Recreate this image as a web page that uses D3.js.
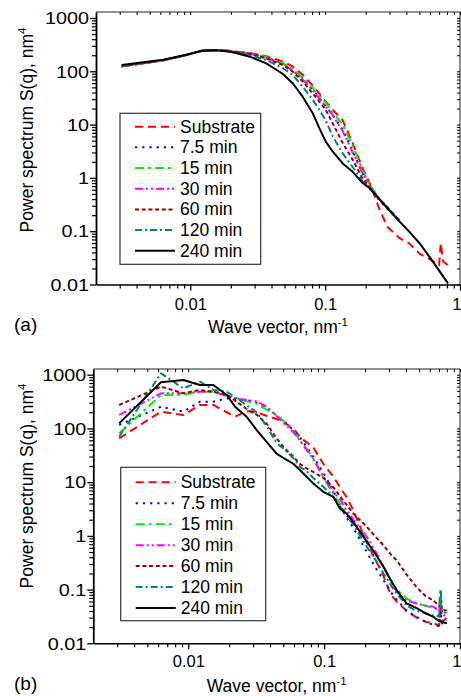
<!DOCTYPE html>
<html><head><meta charset="utf-8">
<script src="https://cdn.jsdelivr.net/npm/d3@7"></script>
<style>
html,body{margin:0;padding:0;background:#fff;}
svg{display:block;}
text{font-family:"Liberation Sans",Arial,Helvetica,sans-serif;fill:#000;}
</style>
</head><body>
<svg id="chart" width="461" height="696"></svg>
<script>
// ---------- DATA ----------
const seriesNames = ["Substrate", "7.5 min", "15 min", "30 min", "60 min", "120 min", "240 min"];
const xTickValues = [0.01, 0.1, 1];
const yTickValues = [0.01, 0.1, 1, 10, 100, 1000];
const panelLabels = ["(a)", "(b)"];
const xTitle = "Wave vector, nm";
const xTitleSup = "-1";
const yTitle = "Power spectrum S(q), nm";
const yTitleSup = "4";

// Panel (a)
const qA = [0.0031, 0.0063, 0.0092, 0.0122, 0.0153, 0.0184, 0.0214, 0.0277, 0.0366, 0.0487, 0.0577, 0.0683, 0.081, 0.0906, 0.101, 0.114, 0.135, 0.16, 0.19, 0.214, 0.254, 0.29, 0.357, 0.42, 0.5, 0.595, 0.70, 0.72, 0.75, 0.815];
const sA_sub = [123, 160, 200, 243, 250, 245, 235, 220, 192, 152, 122, 86, 54, 38, 27, 19, 12, 4.5, 1.5, 0.8, 0.25, 0.12, 0.074, 0.059, 0.038, 0.03, 0.023, 0.06, 0.027, 0.023];
const sA_7_5 = [124, 161, 200, 243, 250, 245, 234, 216, 182, 140, 105, 74, 46, 32, 22, 15, 8, 3.2, 1.2, 0.68, 0.37, 0.26, 0.16, null, null, null, null, null, null, null];
const sA_15  = [124, 161, 200, 243, 250, 245, 234, 218, 185, 142, 108, 76, 49, 35, 26, 17, 10, 4, 1.4, 0.75, 0.4, 0.28, 0.16, null, null, null, null, null, null, null];
const sA_30  = [124, 161, 200, 243, 250, 245, 234, 214, 180, 137, 102, 70, 44, 31, 22, 15, 7.5, 3, 1.2, 0.7, 0.38, 0.27, 0.155, null, null, null, null, null, null, null];
const sA_60  = [124, 161, 200, 243, 250, 244, 232, 211, 175, 131, 98, 64, 38.5, 27, 19, 10.5, 4.5, 2.2, 0.95, 0.66, 0.4, 0.28, 0.155, null, null, null, null, null, null, null];
const sA_120 = [125, 162, 201, 243, 249, 242, 228, 202, 163, 114, 85, 51, 29, 19, 12, 6, 2.9, 1.6, 0.85, 0.64, 0.39, 0.27, 0.152, null, null, null, null, null, null, null];
const sA_240 = [131, 165, 203, 243, 248, 238, 222, 188, 141, 89, 59, 33, 16.3, 8.6, 4.8, 3.1, 1.87, 1.3, 0.8, 0.64, 0.39, 0.27, 0.151, 0.098, 0.06, 0.033, null, null, null, 0.0105];

// Panel (b)
const qB = [0.0031, 0.0063, 0.0092, 0.0122, 0.0153, 0.0192, 0.0221, 0.0269, 0.0319, 0.038, 0.0447, 0.0515, 0.0593, 0.066, 0.0743, 0.083, 0.0986, 0.117, 0.131, 0.146, 0.164, 0.206, 0.24, 0.273, 0.31, 0.342, 0.405, 0.48, 0.56, 0.637, 0.70, 0.72, 0.74, 0.8];
const sB_sub = [65, 205, 178, 273, 273, 200, 165, 210, 200, 170, 150, 125, 100, 70, 55, 45, 22, 12.6, 8, 5.3, 3.0, 0.75, 0.35, 0.18, 0.08, 0.06, 0.04, 0.03, 0.025, 0.024, 0.021, 0.05, 0.025, 0.03];
const sB_7_5 = [116, 254, 205, 314, 314, 363, 350, 338, 300, 230, 175, 130, 93, 70, 45, 30, 15, 7, 3.5, 2.2, 1.4, 0.5, 0.25, 0.15, 0.09, 0.065, 0.04, 0.031, 0.025, 0.022, 0.021, 0.04, 0.022, 0.024];
const sB_15  = [81, 419, 419, 482, 482, 420, 370, 320, 290, 220, 180, 130, 90, 61, 42, 28, 12, 6, 4, 2.6, 1.8, 0.83, 0.45, 0.27, 0.14, 0.1, 0.068, 0.055, 0.05, 0.045, 0.045, 0.1, 0.04, 0.036];
const sB_30  = [178, 451, 451, 482, 482, 400, 363, 338, 320, 250, 170, 120, 85, 60, 40, 27, 13, 6.5, 4.8, 3, 2.0, 0.96, 0.5, 0.27, 0.14, 0.09, 0.062, 0.055, 0.05, 0.048, 0.04, 0.06, 0.04, 0.036];
const sB_60  = [273, 600, 451, 519, 480, 419, 330, 230, 180, 120, 65, 42, 30, 22, 18, 15.5, 12, 8, 5.5, 3.8, 2.6, 1.48, 0.95, 0.67, 0.45, 0.35, 0.19, 0.11, 0.075, 0.063, 0.05, 0.045, 0.042, 0.041];
const sB_120 = [70, 1060, 558, 745, 519, 482, 380, 270, 200, 108, 53, 40, 28, 19.5, 16, 12, 8.2, 5.3, 3.6, 2.4, 1.6, 0.63, 0.35, 0.2, 0.12, 0.085, 0.05, 0.04, 0.036, 0.033, 0.032, 0.1, 0.035, 0.031];
const sB_240 = [124, 721, 796, 643, 643, 419, 254, 165, 93, 55, 34, 27, 22, 17, 12.6, 9.5, 6.6, 5.3, 3.2, 2.6, 1.8, 0.78, 0.45, 0.266, 0.15, 0.098, 0.055, 0.045, 0.036, 0.031, 0.026, null, 0.025, 0.0235];

// ---------- STYLES ----------
const lineStyles = [
  {color: "#ff0000", dash: "8,5"},
  {color: "#0000ff", dash: "2.2,5"},
  {color: "#00ee00", dash: "9,4,3,4"},
  {color: "#ff00ff", dash: "8,3,2,3,2,3"},
  {color: "#990000", dash: "4,2.7"},
  {color: "#008080", dash: "7,3,2,3"},
  {color: "#000000", dash: null}
];
const FONT = '"Liberation Sans",Arial,Helvetica,sans-serif';

const svg = d3.select("#chart");

const panels = [
  {q: qA, s: [sA_sub, sA_7_5, sA_15, sA_30, sA_60, sA_120, sA_240],
   left: 96, right: 460, bottom: 284.5, y1000: 18, top: 12,
   legend: {x: 120, y: 113.3, w: 140.7, h: 151, firstBase: 132.7, step: 20.67},
   yTitleY: 130, xTitleBase: 333, xTickBase: 310, label: panelLabels[0], labelBase: 331},
  {q: qB, s: [sB_sub, sB_7_5, sB_15, sB_30, sB_60, sB_120, sB_240],
   left: 93.3, right: 460, bottom: 643.3, y1000: 374.7, top: 369,
   legend: {x: 120.7, y: 467.3, w: 145, h: 153.4, firstBase: 488.3, step: 20.95},
   yTitleY: 486, xTitleBase: 692, xTickBase: 667, label: panelLabels[1], labelBase: 690}
];

function minorsOf(lo, hi) {
  const out = [];
  for (let e = lo; e < hi; e++) for (let k = 2; k <= 9; k++) out.push(k * Math.pow(10, e));
  return out;
}

panels.forEach((p, pi) => {
  const x = d3.scaleLog().domain([0.002, 1]).range([p.left, p.right]);
  const decade = (p.bottom - p.y1000) / 5;
  const yTopVal = 1000 * Math.pow(10, (p.y1000 - p.top) / decade);
  const y = d3.scaleLog().domain([0.01, yTopVal]).range([p.bottom, p.top]);

  const g = svg.append("g");
  const clipId = "clip" + pi;
  svg.append("clipPath").attr("id", clipId).append("rect")
    .attr("x", p.left).attr("y", p.top).attr("width", p.right - p.left).attr("height", p.bottom - p.top);

  // frame top/right
  g.append("line").attr("x1", p.left).attr("x2", p.right).attr("y1", p.top).attr("y2", p.top)
    .attr("stroke", "#222").attr("stroke-width", 1);
  g.append("line").attr("x1", p.right).attr("x2", p.right).attr("y1", p.top).attr("y2", p.bottom)
    .attr("stroke", "#222").attr("stroke-width", 1);

  // mirrored inward ticks on top and right
  const xMinor = minorsOf(-3, 0).filter(v => v > 0.002 && v < 1);
  const yMinor = minorsOf(-2, 4).filter(v => v < yTopVal);
  const topAx = g.append("g").attr("transform", `translate(0,${p.top})`)
    .call(d3.axisBottom(x).tickValues(xTickValues.concat(xMinor)).tickSize(3).tickFormat(""));
  topAx.select(".domain").remove();
  const rightAx = g.append("g").attr("transform", `translate(${p.right},0)`)
    .call(d3.axisLeft(y).tickValues(yTickValues.concat(yMinor)).tickSize(3).tickFormat(""));
  rightAx.select(".domain").remove();

  // bottom axis
  const bx = g.append("g").attr("transform", `translate(0,${p.bottom})`)
    .call(d3.axisBottom(x).tickValues(xTickValues).tickSize(6).tickSizeOuter(0).tickFormat(d => String(d)));
  bx.select(".domain").attr("stroke-width", 1.6);
  bx.selectAll(".tick line").attr("stroke-width", 1.3);
  bx.selectAll("text").attr("font-family", FONT).attr("font-size", 16.5)
    .attr("y", p.xTickBase - p.bottom).attr("dy", 0)
    .filter(d => d === 1).attr("text-anchor", "end").attr("x", 1);
  const bxm = g.append("g").attr("transform", `translate(0,${p.bottom})`)
    .call(d3.axisBottom(x).tickValues(xMinor).tickSize(4).tickFormat(""));
  bxm.select(".domain").remove();
  bxm.selectAll(".tick line").attr("stroke-width", 1.2);

  // left axis
  const ly = g.append("g").attr("transform", `translate(${p.left},0)`)
    .call(d3.axisLeft(y).tickValues(yTickValues).tickSize(6).tickSizeOuter(0).tickFormat(d => String(d)));
  ly.select(".domain").attr("stroke-width", 1.8);
  ly.selectAll(".tick line").attr("stroke-width", 1.3);
  ly.selectAll("text").attr("font-family", FONT).attr("font-size", 16.5)
    .attr("x", 0).attr("dy", "0.35em")
    .attr("transform", "translate(-7,0) scale(1.2,1)");
  const lym = g.append("g").attr("transform", `translate(${p.left},0)`)
    .call(d3.axisLeft(y).tickValues(yMinor).tickSize(4).tickFormat(""));
  lym.select(".domain").remove();
  lym.selectAll(".tick line").attr("stroke-width", 1.2);

  // curves
  const line = d3.line().x(d => x(d[0])).y(d => y(d[1]));
  const cg = g.append("g").attr("clip-path", `url(#${clipId})`);
  p.s.forEach((vals, si) => {
    const pts = p.q.map((qq, i) => [qq, vals[i]]).filter(d => d[1] != null);
    const st = lineStyles[si];
    cg.append("path").datum(pts).attr("d", line)
      .attr("fill", "none").attr("stroke", st.color).attr("stroke-width", 2)
      .attr("stroke-dasharray", st.dash).attr("stroke-linejoin", "round");
  });

  // legend
  const L = p.legend;
  const lg = g.append("g");
  lg.append("rect").attr("x", L.x).attr("y", L.y).attr("width", L.w).attr("height", L.h)
    .attr("fill", "#fff").attr("stroke", "#333").attr("stroke-width", 1.2);
  seriesNames.forEach((name, i) => {
    const base = L.firstBase + i * L.step;
    const st = lineStyles[i];
    lg.append("line").attr("x1", L.x + 15).attr("x2", L.x + 55).attr("y1", base - 6).attr("y2", base - 6)
      .attr("stroke", st.color).attr("stroke-width", 2).attr("stroke-dasharray", st.dash);
    lg.append("text").attr("x", L.x + 60).attr("y", base).attr("font-size", 17.5).text(name);
  });

  // y title
  const yt = g.append("text").attr("font-size", 17.5).attr("text-anchor", "middle")
    .attr("transform", `translate(33,${p.yTitleY}) rotate(-90)`);
  yt.append("tspan").text(yTitle);
  yt.append("tspan").attr("font-size", 11.5).attr("dy", -7).text(yTitleSup);

  // x title
  const xt = g.append("text").attr("font-size", 17.5).attr("text-anchor", "middle")
    .attr("x", (p.left + p.right) / 2).attr("y", p.xTitleBase);
  xt.append("tspan").text(xTitle);
  xt.append("tspan").attr("font-size", 11.5).attr("dy", -7).text(xTitleSup);

  // panel label
  g.append("text").attr("x", 14).attr("y", p.labelBase).attr("font-size", 19).text(p.label);
});
</script>
</body></html>
